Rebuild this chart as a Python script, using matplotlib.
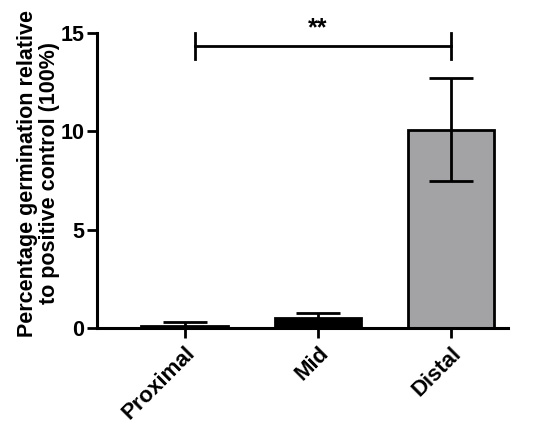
import matplotlib.pyplot as plt
from matplotlib.transforms import ScaledTranslation

plt.rcParams['font.family'] = ['Liberation Sans', 'DejaVu Sans']
plt.rcParams['font.weight'] = 'bold'

groups = ['Proximal', 'Mid', 'Distal']
means = [0.12, 0.5, 10.1]
errs = [0.18, 0.26, 2.6]
colors = ['black', 'black', '#a3a3a6']

fig = plt.figure(figsize=(5.5, 4.25), dpi=100)
ax = fig.add_axes([0.176, 0.228, 0.748, 0.694])

x = range(len(groups))
ax.bar(x, means, width=0.65, color=colors, edgecolor='black', linewidth=2, zorder=2)
ax.errorbar(x, means, yerr=errs, fmt='none', ecolor='black', elinewidth=2,
            capsize=15.5, capthick=2, zorder=3)

# significance bracket
ax.plot([0.08, 2.0], [14.35, 14.35], color='black', lw=2, clip_on=False)
ax.plot([0.08, 0.08], [13.7, 15.0], color='black', lw=2, clip_on=False)
ax.plot([2.0, 2.0], [13.7, 15.0], color='black', lw=2, clip_on=False)
ax.text(1.0, 14.9, '**', ha='center', va='baseline', fontsize=18, fontweight='bold',
        clip_on=False)

ax.set_xlim(-0.66, 2.43)
ax.set_ylim(0, 15)
ax.set_yticks([0, 5, 10, 15])
ax.set_xticks(list(x))
ax.set_xticklabels(groups, rotation=45, ha='right', rotation_mode='anchor', fontsize=16)
offset = ScaledTranslation(8 / 72, -4 / 72, fig.dpi_scale_trans)
for lab in ax.get_xticklabels():
    lab.set_transform(lab.get_transform() + offset)
    lab.set_fontweight('bold')
ax.tick_params(axis='y', labelsize=15.5, width=2, length=7, pad=2)
ax.tick_params(axis='x', width=2, length=7)
for lab in ax.get_yticklabels():
    lab.set_fontweight('bold')

ax.spines['top'].set_visible(False)
ax.spines['right'].set_visible(False)
ax.spines['left'].set_linewidth(2.2)
ax.spines['bottom'].set_linewidth(2.2)

ax.set_ylabel('Percentage germination relative\nto positive control (100%)',
              fontsize=15.5, fontweight='bold', linespacing=1.05)
ax.yaxis.set_label_coords(-0.09, 0.525)

fig.savefig('out.png', dpi=100)
